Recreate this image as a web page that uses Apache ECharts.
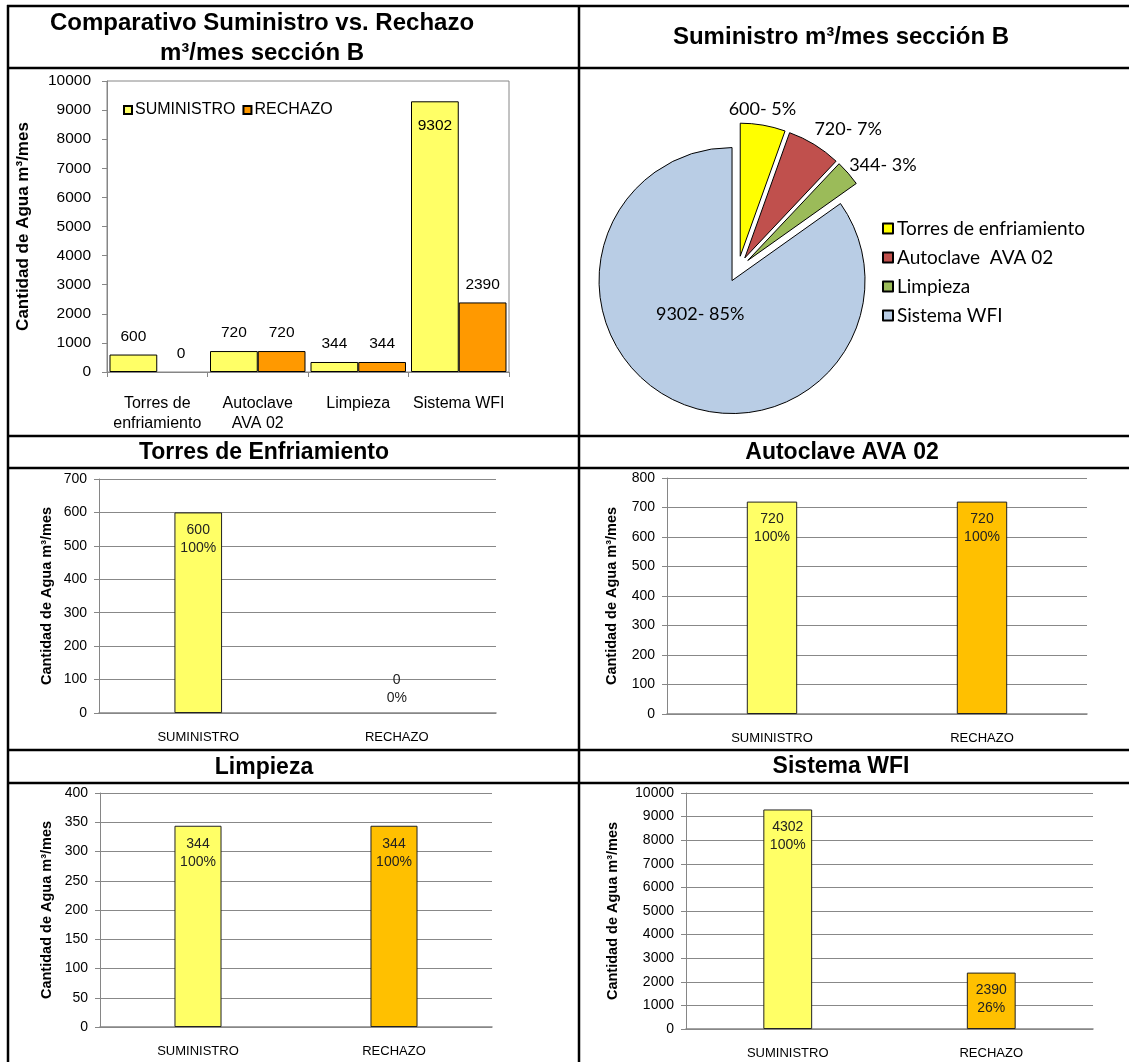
<!DOCTYPE html>
<html>
<head>
<meta charset="utf-8">
<title>Suministro vs Rechazo seccion B</title>
<script src="https://cdn.jsdelivr.net/npm/echarts@6/dist/echarts.min.js"></script>
<style>
  html, body { margin: 0; padding: 0; background: #fff; }
  #main { width: 1129px; height: 1062px; }
</style>
</head>
<body>
<div id="main"></div>
<script>
// --- datos ---
const areas = ['Torres de\nenfriamiento', 'Autoclave\nAVA 02', 'Limpieza', 'Sistema WFI'];
const suministro = [600, 720, 344, 9302];
const rechazo = [0, 720, 344, 2390];

const pieNames = ['Torres de enfriamiento', 'Autoclave  AVA 02', 'Limpieza', 'Sistema WFI'];
const pieValues = [600, 720, 344, 9302];

const tipos = ['SUMINISTRO', 'RECHAZO'];
const torres = [600, 0];
const torresPct = [100, 0];
const autoclave = [720, 720];
const autoclavePct = [100, 100];
const limpieza = [344, 344];
const limpiezaPct = [100, 100];
const wfi = [9302, 2390];
const wfiRotulo = [4302, 2390]; // el rotulo original dice 4302
const wfiPct = [100, 26];

const ARIAL = '"Liberation Sans", Arial, sans-serif';
const CALIBRI = 'Lato, "Open Sans", sans-serif';
const AXIS_NAME = 'Cantidad de Agua m³/mes';

// ajuste fino de los rotulos de la torta (dx, dy)
const pieLabelShift = [[-40, -12], [-7, -12], [-7, -5], [0, -28]];

const chart = echarts.init(document.getElementById('main'), null, { renderer: 'canvas' });

const plain = v => String(v);

function smallAxes(idx, max, interval, nameGap) {
  return {
    x: {
      type: 'category', gridIndex: idx, data: tipos,
      axisLine: { lineStyle: { color: '#868686', width: 1.5 } },
      axisTick: { show: false },
      axisLabel: { color: '#000', fontFamily: ARIAL, fontSize: 13, margin: 18, interval: 0 }
    },
    y: {
      type: 'value', gridIndex: idx, min: 0, max: max, interval: interval,
      name: AXIS_NAME, nameLocation: 'middle', nameGap: nameGap,
      nameTextStyle: { fontFamily: ARIAL, fontWeight: 'bold', fontSize: 14.5, color: '#000' },
      axisLine: { show: true, lineStyle: { color: '#868686' } },
      axisTick: { show: true, length: 5, lineStyle: { color: '#868686' } },
      axisLabel: { color: '#000', fontFamily: ARIAL, fontSize: 14, margin: 12, formatter: plain },
      splitLine: { lineStyle: { color: '#888', width: 1.2 } }
    }
  };
}

function smallSeries(id, idx, vals, shown, pct) {
  return {
    type: 'bar', name: id, xAxisIndex: idx, yAxisIndex: idx,
    barWidth: '24%',
    data: vals.map((v, i) => ({
      value: v,
      itemStyle: { color: i === 0 ? '#FFFF66' : '#FFC000', borderWidth: v === 0 ? 0 : 1 },
      label: { position: v === 0 ? 'top' : 'insideTop', distance: v === 0 ? 6 : 9 }
    })),
    itemStyle: { borderColor: '#222', borderWidth: 1 },
    label: {
      show: true, fontFamily: ARIAL, fontSize: 14, color: '#222', lineHeight: 18,
      formatter: p => shown[p.dataIndex] + '\n' + pct[p.dataIndex] + '%'
    },
    emphasis: { disabled: true }
  };
}

const small = [
  smallAxes(1, 700, 100, 45),
  smallAxes(2, 800, 100, 48),
  smallAxes(3, 400, 50, 46),
  smallAxes(4, 10000, 1000, 66)
];

// tabla
const hLines = [6, 68, 436, 468, 750, 783];
const vLines = [8, 579];
const borders = [];
hLines.forEach(y => borders.push({ type: 'line', shape: { x1: 7, y1: y, x2: 1129, y2: y }, style: { stroke: '#000', lineWidth: 2.5 }, z: 100 }));
vLines.forEach(x => borders.push({ type: 'line', shape: { x1: x, y1: 5, x2: x, y2: 1062 }, style: { stroke: '#000', lineWidth: 2.5 }, z: 100 }));

const titles = [
  { x: 262, y: 38, text: 'Comparativo Suministro vs. Rechazo\nm³/mes sección B', size: 24 },
  { x: 841, y: 37, text: 'Suministro m³/mes sección B', size: 24 },
  { x: 264, y: 453, text: 'Torres de Enfriamiento', size: 23 },
  { x: 842, y: 453, text: 'Autoclave AVA 02', size: 23 },
  { x: 264, y: 768, text: 'Limpieza', size: 23 },
  { x: 841, y: 767, text: 'Sistema WFI', size: 23 }
];
const titleEls = titles.map(t => ({
  type: 'text', x: t.x, y: t.y, z: 100,
  style: {
    text: t.text, fill: '#000', fontFamily: ARIAL, fontWeight: 'bold', fontSize: t.size,
    lineHeight: 30, align: 'center', verticalAlign: 'middle'
  }
}));

const option = {
  animation: false,
  backgroundColor: '#fff',
  graphic: borders.concat(titleEls),
  legend: [
    {
      data: ['SUMINISTRO', 'RECHAZO'], left: 123, top: 102, padding: 0,
      itemWidth: 8, itemHeight: 8, itemGap: 7, icon: 'rect',
      textStyle: { fontFamily: ARIAL, fontSize: 16, color: '#000', padding: [0, 0, 0, -2] }
    },
    {
      data: pieNames, orient: 'vertical', left: 882, top: 219, padding: 0,
      itemWidth: 10, itemHeight: 10, itemGap: 10, icon: 'rect',
      textStyle: { fontFamily: CALIBRI, fontSize: 19, color: '#000', padding: [0, 0, 0, -1] }
    }
  ],
  grid: [
    { left: 107, top: 81, width: 402, height: 291, show: true, borderColor: '#868686', borderWidth: 1 },
    { left: 99, top: 479, width: 397, height: 234 },
    { left: 667, top: 478, width: 420, height: 236 },
    { left: 100, top: 793, width: 392, height: 234 },
    { left: 686, top: 793, width: 407, height: 236 }
  ],
  xAxis: [
    {
      type: 'category', gridIndex: 0, data: areas,
      axisLine: { lineStyle: { color: '#868686' } },
      axisTick: { show: true, length: 5, lineStyle: { color: '#868686' } },
      axisLabel: { color: '#000', fontFamily: ARIAL, fontSize: 16, lineHeight: 20, margin: 22, interval: 0 }
    }
  ].concat(small.map(a => a.x)),
  yAxis: [
    {
      type: 'value', gridIndex: 0, min: 0, max: 10000, interval: 1000,
      name: AXIS_NAME, nameLocation: 'middle', nameGap: 75,
      nameTextStyle: { fontFamily: ARIAL, fontWeight: 'bold', fontSize: 17, color: '#000' },
      axisLine: { show: true, lineStyle: { color: '#868686' } },
      axisTick: { show: true, length: 5, lineStyle: { color: '#868686' } },
      axisLabel: { color: '#000', fontFamily: ARIAL, fontSize: 15.5, margin: 16, formatter: plain },
      splitLine: { show: false }
    }
  ].concat(small.map(a => a.y)),
  series: [
    {
      type: 'bar', name: 'SUMINISTRO', xAxisIndex: 0, yAxisIndex: 0,
      barGap: '0%', barCategoryGap: '5%',
      data: suministro.map(v => ({ value: v, label: { position: v > 9000 ? 'insideTop' : 'top', distance: v > 9000 ? 16 : 10 } })),
      itemStyle: { color: '#FFFF66', borderColor: '#000', borderWidth: 1 },
      label: { show: true, fontFamily: ARIAL, fontSize: 15.5, color: '#000' },
      emphasis: { disabled: true }
    },
    {
      type: 'bar', name: 'RECHAZO', xAxisIndex: 0, yAxisIndex: 0,
      barGap: '0%', barCategoryGap: '5%',
      data: rechazo.map(v => ({ value: v, itemStyle: { borderWidth: v === 0 ? 0 : 1 } })),
      itemStyle: { color: '#FF9900', borderColor: '#000', borderWidth: 1 },
      label: { show: true, position: 'top', distance: 10, fontFamily: ARIAL, fontSize: 15.5, color: '#000' },
      emphasis: { disabled: true }
    },
    smallSeries('detalle-torres', 1, torres, torres, torresPct),
    smallSeries('detalle-autoclave', 2, autoclave, autoclave, autoclavePct),
    smallSeries('detalle-limpieza', 3, limpieza, limpieza, limpiezaPct),
    smallSeries('detalle-wfi', 4, wfi, wfiRotulo, wfiPct),
    {
      type: 'pie', name: 'Suministro', center: [738, 269], radius: 133,
      startAngle: 90, clockwise: true,
      selectedMode: 'multiple', selectedOffset: 13, avoidLabelOverlap: false,
      data: pieNames.map((n, i) => ({
        name: n, value: pieValues[i], selected: true,
        itemStyle: { color: ['#FFFF00', '#C0504D', '#9BBB59', '#B9CDE5'][i] },
        label: { position: i === 3 ? 'inside' : 'outside' }
      })),
      itemStyle: { borderColor: '#000', borderWidth: 1 },
      select: { itemStyle: { borderColor: '#000', borderWidth: 1 } },
      label: {
        fontFamily: CALIBRI, fontSize: 18, color: '#000',
        formatter: p => p.value + '- ' + Math.round(p.percent) + '%'
      },
      labelLine: { show: false, length: 4, length2: 0 },
      labelLayout: p => ({ dx: pieLabelShift[p.dataIndex][0], dy: pieLabelShift[p.dataIndex][1] }),
      emphasis: { disabled: true }
    }
  ]
};

chart.setOption(option);
</script>
</body>
</html>
